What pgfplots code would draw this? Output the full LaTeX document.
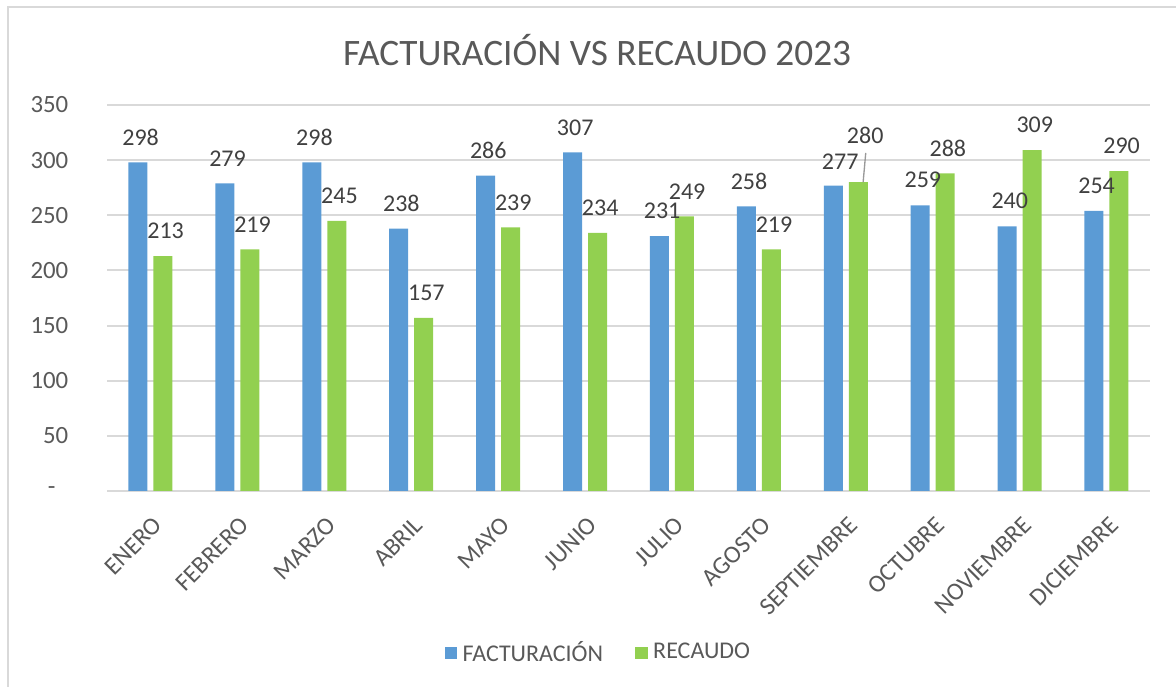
\documentclass[border=0pt]{standalone}
\usepackage{pgfplots}
\pgfplotsset{compat=1.18}
\usepackage{pgfplotstable}
\usepackage{fontspec}
\setmainfont{Carlito}
\definecolor{cblue}{HTML}{5B9BD5}
\definecolor{cgreen}{HTML}{92D050}
\definecolor{cgrid}{HTML}{D9D9D9}
\definecolor{ctext}{HTML}{595959}
\definecolor{clab}{HTML}{404040}

\pgfplotstableread{
x  f   fdy  fdx
0  298 9.4  1
1  279 9.4  1
2  298 9.4  1
3  238 9.4  1
4  286 9.4  1
5  307 9.4  1
6  231 9.4  1
7  258 9.4  1
8  277 8.8  2.6
9  259 9.4  1
10 240 9.4  1
11 254 9.4  1
}\facturacion

\pgfplotstableread{
x  r   rdy  rdx
0  213 9.4  1
1  219 9.4  1
2  245 9.4  1
3  157 9.4  1
4  239 9.4  1
5  234 9.4  1
6  249 9.4  1
7  219 9.4  1
8  280 17.6 2.6
9  288 9.4  1
10 309 9.4  1
11 290 9.4  1
}\recaudo

\begin{document}
\begin{tikzpicture}
\path[use as bounding box] (0,0) rectangle (441pt,257.625pt);
\draw[cgrid, line width=0.75pt] (3pt,0) -- (3pt,255pt) -- (441pt,255pt);
\node[text=ctext, font=\fontsize{14}{16}\selectfont] at (223.9pt,238.85pt) {FACTURACIÓN VS RECAUDO 2023};
\node[text=ctext, font=\fontsize{9.3}{11}\selectfont, anchor=east, inner sep=0pt] at (21pt,73.5pt) {-};
\begin{axis}[
  at={(40.125pt,73.5pt)}, anchor=south west,
  scale only axis, width=391.1pt, height=144.75pt,
  ybar=2.25pt, bar width=7.125pt,
  xmin=-0.5, xmax=11.5, ymin=0, ymax=350,
  xtick={0,...,11},
  xticklabels={ENERO,FEBRERO,MARZO,ABRIL,MAYO,JUNIO,JULIO,AGOSTO,SEPTIEMBRE,OCTUBRE,NOVIEMBRE,DICIEMBRE},
  ytick={0,50,...,350},
  yticklabels={{},50,100,150,200,250,300,350},
  major tick length=0pt,
  axis x line*=bottom, axis y line*=left,
  x axis line style={cgrid, line width=0.75pt, -},
  y axis line style={draw=none},
  ymajorgrids, grid style={cgrid, line width=0.75pt},
  tick label style={text=ctext, font=\fontsize{9.3}{11}\selectfont},
  xticklabel style={rotate=45, anchor=east, xshift=-2.5pt, yshift=-10pt},
  yticklabel style={anchor=east, xshift=-11pt},
  /pgf/number format/assume math mode=true,
  legend style={at={(0.4727,-0.4197)}, anchor=center, draw=none, fill=none,
    legend columns=2, font=\fontsize{9}{11}\selectfont, text=ctext,
    /tikz/every even column/.append style={column sep=10pt},
    legend cell align=left},
  legend image code/.code={\fill[#1] (0pt,-2.4pt) rectangle (4.8pt,2.4pt);},
  nodes near coords,
  every node near coord/.append style={text=clab, font=\fontsize{9}{11}\selectfont, anchor=center},
  clip=false,
]
\addplot[fill=cblue, draw=none,
  visualization depends on={\thisrow{fdy} \as \dy},
  visualization depends on={\thisrow{fdx} \as \dx},
  nodes near coords style={yshift=\dy pt, xshift=\dx pt}]
  table[x=x, y=f] {\facturacion};
\addlegendentry{FACTURACIÓN}
\addplot[fill=cgreen, draw=none,
  visualization depends on={\thisrow{rdy} \as \dy},
  visualization depends on={\thisrow{rdx} \as \dx},
  nodes near coords style={yshift=\dy pt, xshift=\dx pt}]
  table[x=x, y=r] {\recaudo};
\addlegendentry{RECAUDO}
\addplot[ybar=0pt, bar shift=0pt, sharp plot, draw=gray!80, line width=0.5pt, nodes near coords=, forget plot, mark=none]
  coordinates {(8.20,280) (8.23,306.5)};
\end{axis}
\end{tikzpicture}
\end{document}
